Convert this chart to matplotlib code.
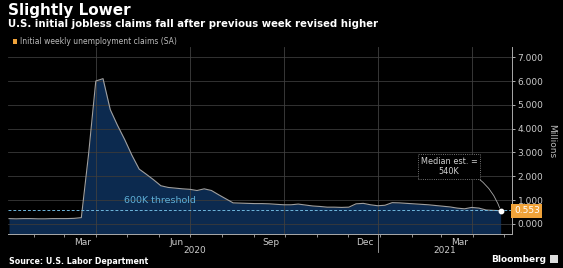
import matplotlib
matplotlib.use("Agg")
import matplotlib.pyplot as plt
import pandas as pd

# weekly initial jobless claims (millions, SA), week ending Saturday
weeks = pd.date_range("2020-01-04", "2021-04-24", freq="7D")
claims = [0.22, 0.21, 0.22, 0.22, 0.21, 0.21, 0.22, 0.22, 0.22, 0.23, 0.26,
          2.92, 6.00, 6.10, 4.80, 4.14, 3.54, 2.88, 2.30, 2.08, 1.85, 1.60,
          1.53, 1.50, 1.47, 1.45, 1.40, 1.47, 1.40, 1.22, 1.05, 0.88, 0.87,
          0.86, 0.85, 0.85, 0.84, 0.82, 0.80, 0.80, 0.83, 0.79, 0.75, 0.73,
          0.70, 0.70, 0.69, 0.70, 0.84, 0.86, 0.80, 0.76,
          0.78, 0.89, 0.88, 0.86, 0.84, 0.82, 0.80, 0.77, 0.74, 0.71, 0.66,
          0.63, 0.69, 0.66, 0.58, 0.566, 0.553]
threshold = 0.6
median_est = "540K"
yticks = [0, 1, 2, 3, 4, 5, 6, 7]
month_labels = ["Mar", "Jun", "Sep", "Dec", "Mar"]
month_label_dates = pd.to_datetime(["2020-03-15", "2020-06-14", "2020-09-14",
                                    "2020-12-14", "2021-03-15"])
grid_dates = pd.to_datetime(["2020-03-28", "2020-06-27", "2020-09-26",
                             "2020-12-26", "2021-03-27"])

bg = "black"
fig = plt.figure(figsize=(5.63, 2.68), dpi=100, facecolor=bg)
ax = fig.add_axes([8 / 563, 1 - 234.3 / 268, 504 / 563, (234.3 - 47) / 268])
ax.set_facecolor(bg)

ymin, ymax = -0.44, 7.43
xmin, xmax = pd.Timestamp("2020-01-03"), pd.Timestamp("2021-05-05")
ax.set_ylim(ymin, ymax)
ax.set_xlim(xmin, xmax)

ax.fill_between(weeks, claims, ymin, color="#0c2a4f", lw=0, zorder=1)
ax.plot(weeks, claims, color="#a0a0a0", lw=0.8, zorder=3)

# grid
for y in yticks:
    ax.axhline(y, color="#3a3a3a", lw=0.6, zorder=2)
for d in grid_dates:
    ax.axvline(d, color="#404040", lw=0.6, zorder=2)

# 600K threshold
ax.axhline(threshold, color="#6fb7dd", lw=0.7, ls=(0, (3, 2)), zorder=4)
ax.text(pd.Timestamp("2020-05-29"), threshold + 0.2, "600K threshold",
        color="#5fb0d8", fontsize=6.8, ha="center", va="bottom", zorder=5)

# last point and label
last_d, last_v = weeks[-1], claims[-1]
ax.scatter([last_d], [last_v], s=10, color="white", zorder=6)
ax.annotate("Median est. =\n" + median_est, xy=(last_d, last_v),
            xytext=(pd.Timestamp("2021-03-05"), 2.4),
            color="#d0d0d0", fontsize=5.9, ha="center", va="center",
            bbox=dict(boxstyle="square,pad=0.35", fc=bg, ec="#999999", lw=0.6, ls=":"),
            arrowprops=dict(arrowstyle="-", color="#aaaaaa", lw=0.6,
                            connectionstyle="arc3,rad=-0.3",
                            shrinkA=0, shrinkB=2),
            zorder=7)
ax.text(1.004, (last_v - ymin) / (ymax - ymin), "%.3f" % last_v,
        transform=ax.transAxes, color="white", fontsize=6.5, ha="left", va="center",
        bbox=dict(boxstyle="square,pad=0.28", fc="#f0a33a", ec="none"), zorder=8)

# spines and ticks
for s in ["left", "top"]:
    ax.spines[s].set_visible(False)
for s in ["right", "bottom"]:
    ax.spines[s].set_color("#aaaaaa")
    ax.spines[s].set_linewidth(0.7)
ax.yaxis.tick_right()
ax.set_yticks(yticks)
ax.set_yticklabels(["%.3f" % v for v in yticks])
ax.tick_params(axis="y", colors="#cccccc", labelsize=6.5, length=2.5, width=0.6, pad=1.5)
ax.yaxis.set_label_position("right")
ax.set_ylabel("Millions", color="#bbbbbb", fontsize=6.5, rotation=270, labelpad=9)

month_ticks = pd.date_range("2020-02-01", "2021-05-01", freq="MS") - pd.Timedelta(days=4)
ax.set_xticks(month_ticks)
ax.set_xticklabels([])
ax.tick_params(axis="x", colors="#aaaaaa", length=2.5, width=0.6)
ax.axvline(pd.Timestamp("2020-12-26"), ymin=-0.095, ymax=0, color="#aaaaaa",
           lw=0.6, clip_on=False)
for d, lab in zip(month_label_dates, month_labels):
    ax.text(d, -0.02, lab, transform=ax.get_xaxis_transform(), color="#cccccc",
            fontsize=6.5, ha="center", va="top")
ax.text(0.37, -0.065, "2020", transform=ax.transAxes, color="#cccccc",
        fontsize=6.5, ha="center", va="top")
ax.text(0.867, -0.065, "2021", transform=ax.transAxes, color="#cccccc",
        fontsize=6.5, ha="center", va="top")

# titles
fig.text(8 / 563, 1 - 11 / 268, "Slightly Lower", color="white", fontsize=11,
         fontweight="bold", ha="left", va="center")
fig.text(8 / 563, 1 - 24 / 268,
         "U.S. initial jobless claims fall after previous week revised higher",
         color="white", fontsize=7.3, fontweight="bold", ha="left", va="center")
fig.patches.append(plt.Rectangle((13 / 563, 1 - 43.5 / 268), 4 / 563, 4 / 268,
                                 transform=fig.transFigure, fc="#f0a33a", ec="none"))
fig.text(20 / 563, 1 - 41.7 / 268, "Initial weekly unemployment claims (SA)",
         color="#bbbbbb", fontsize=5.5, ha="left", va="center")
fig.text(9 / 563, 1 - 261 / 268, "Source: U.S. Labor Department", color="white",
         fontsize=5.7, fontweight="bold", ha="left", va="center")
fig.text(546 / 563, 1 - 259 / 268, "Bloomberg", color="white",
         fontsize=6.5, fontweight="bold", ha="right", va="center")
fig.patches.append(plt.Rectangle((550 / 563, 1 - 263 / 268), 8 / 563, 8 / 268,
                                 transform=fig.transFigure, fc="#dddddd", ec="none"))

fig.savefig("out.png", dpi=100, facecolor=bg)
